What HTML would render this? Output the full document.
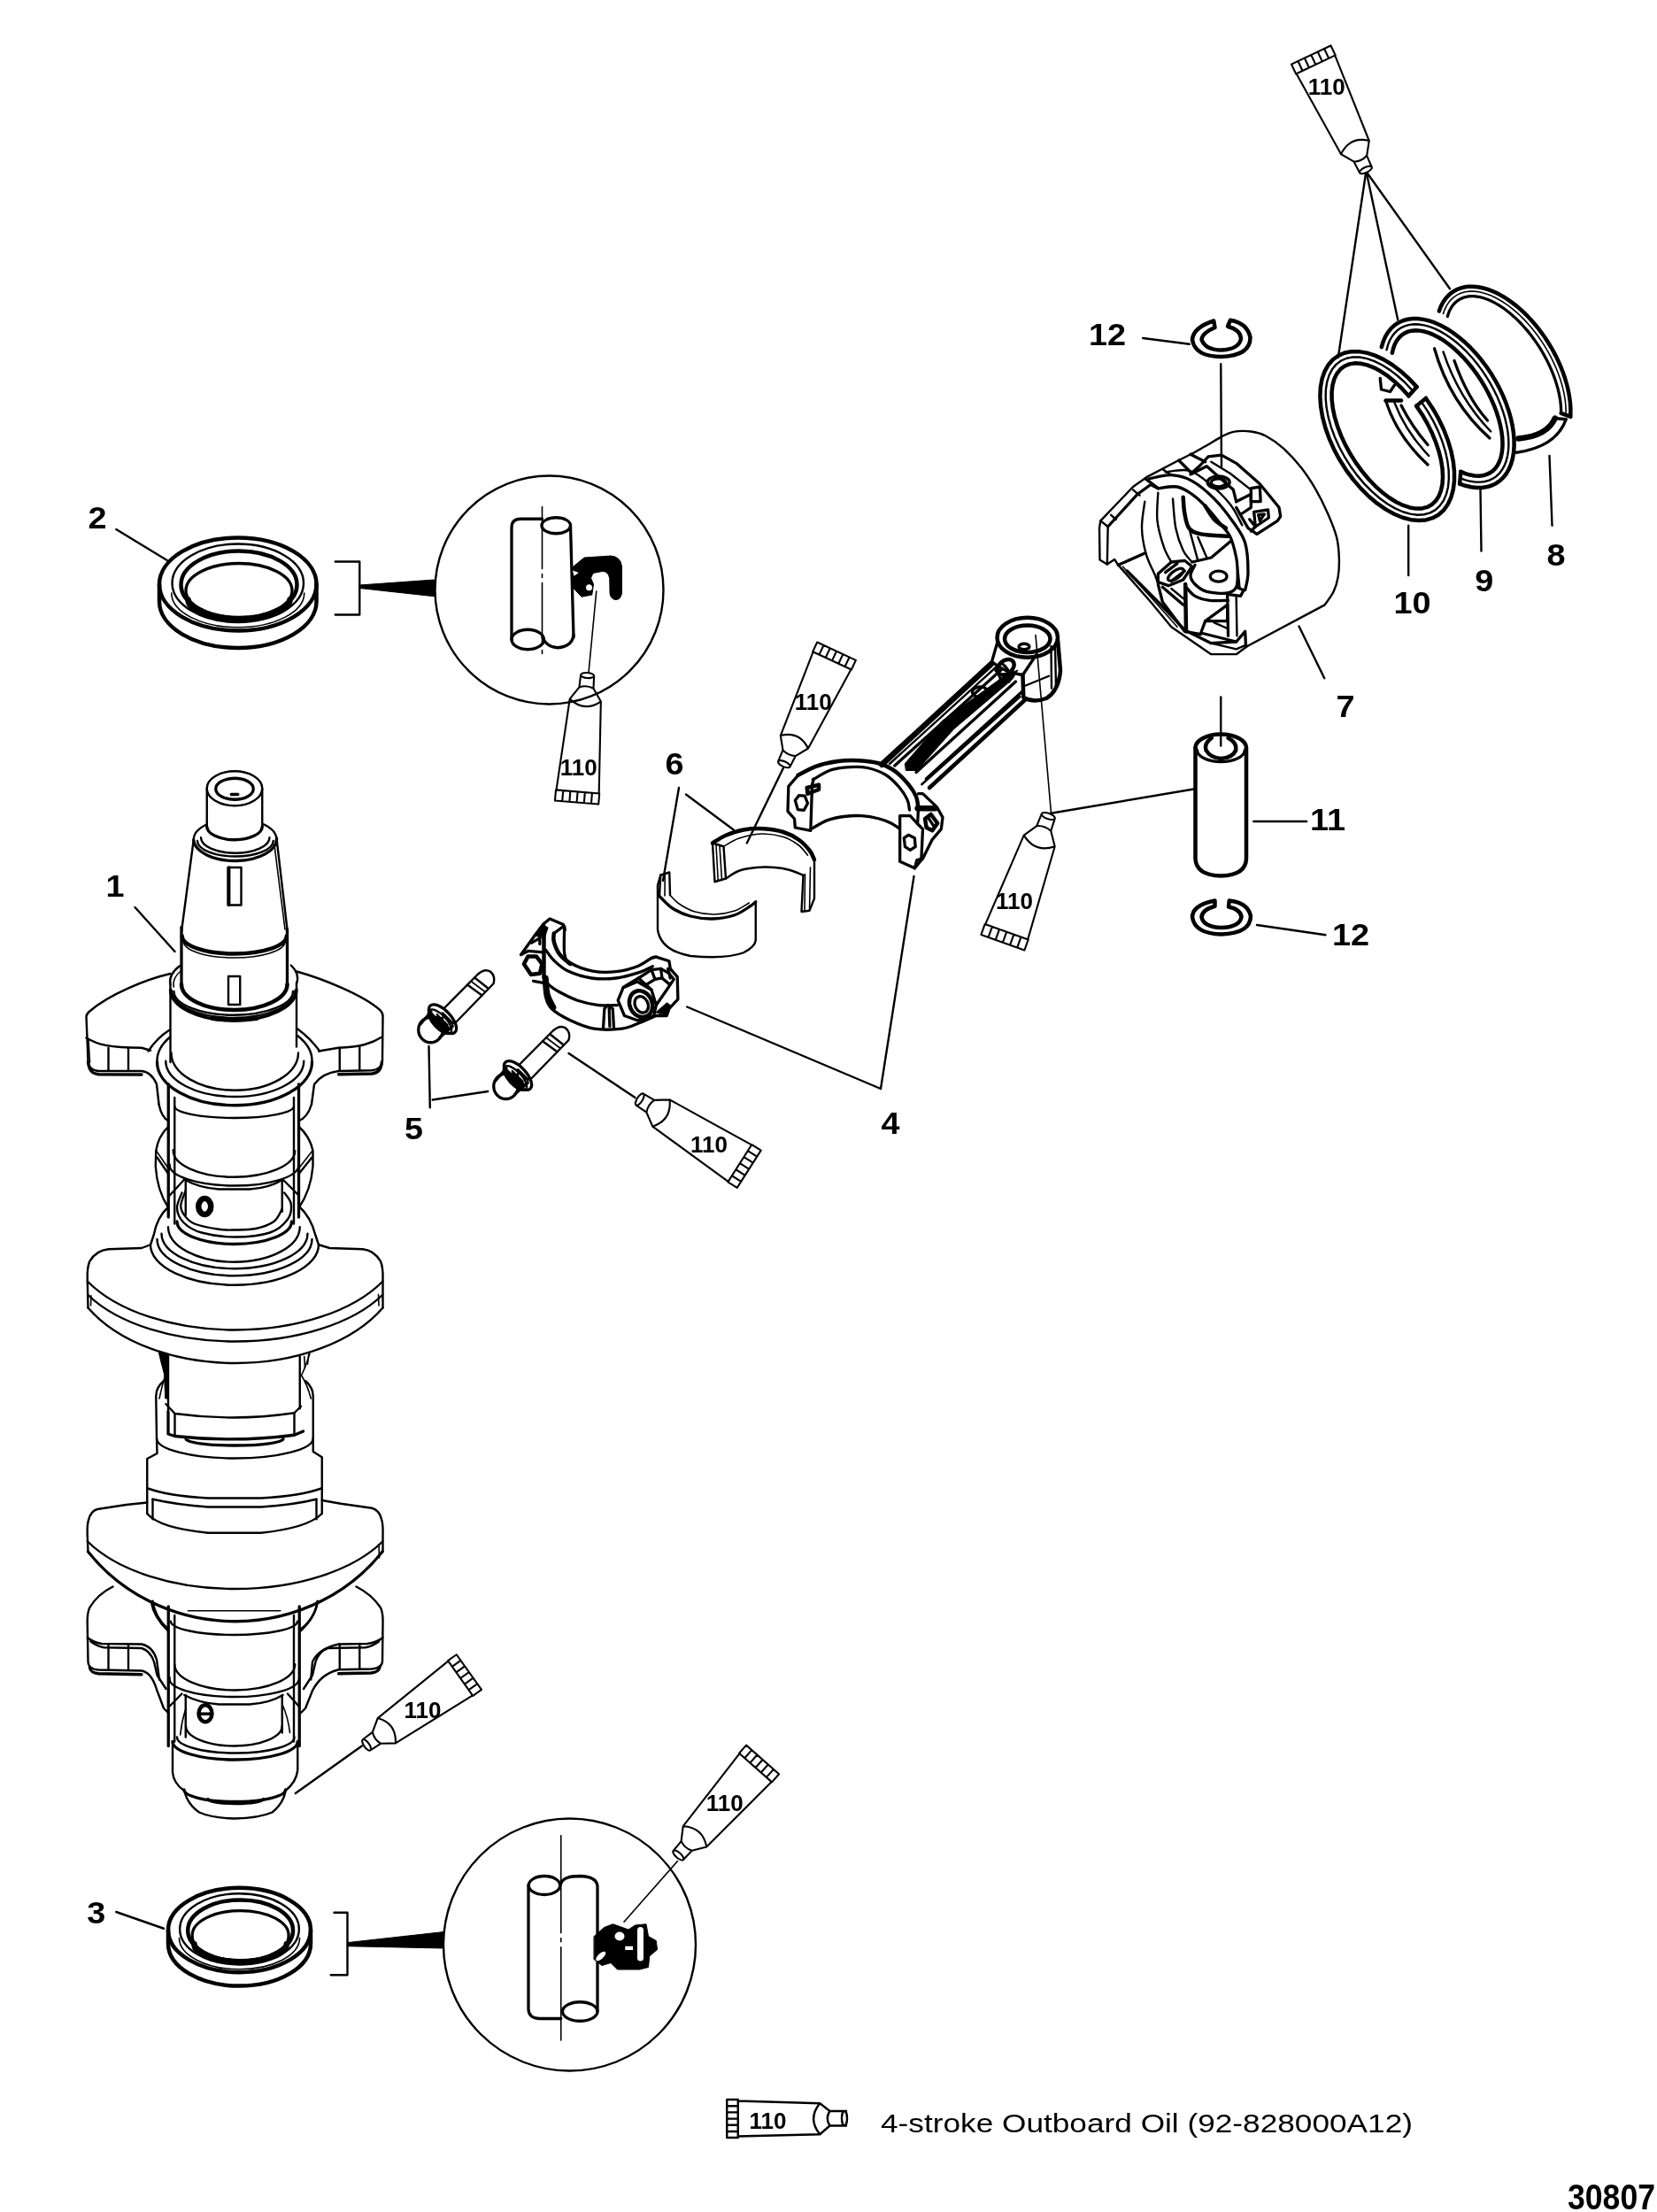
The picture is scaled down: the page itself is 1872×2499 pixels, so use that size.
<!DOCTYPE html>
<html><head><meta charset="utf-8"><title>30807</title>
<style>
html,body{margin:0;padding:0;background:#fff}
svg{display:block}
path,ellipse,circle,line,polyline{vector-effect:non-scaling-stroke;fill:none;stroke:#000;stroke-width:2.4;stroke-linecap:round;stroke-linejoin:round}
.t{stroke-width:1.6}
.n{stroke-width:2.4}
.k{stroke-width:3.3}
.K{stroke-width:4.5}
.c{stroke-width:2.4}
.X{stroke-width:6.5}
.f{fill:#000;stroke:#000;stroke-width:1}
.w{fill:#fff;stroke:none}
.wf{fill:#fff}
text{font-family:"Liberation Sans",sans-serif;fill:#000}
svg{will-change:transform}
.lb{font-weight:bold;font-size:35px;text-anchor:middle}
.tb{font-weight:bold;font-size:26px;text-anchor:middle}
.tn{font-weight:normal;stroke:#000;stroke-width:0.8px}
.t2{stroke-width:2.1}
</style></head>
<body>
<svg width="1872" height="2499" viewBox="0 0 1872 2499">
<rect class="w" x="0" y="0" width="1872" height="2499"/>
<g transform="translate(60,850) scale(0.25)">
<path class="n" d="M695,163 A125,78 0 1 0 945,163 A125,78 0 1 0 695,163Z"/>
<path class="k" d="M735,165 A85,48 0 1 0 905,165 A85,48 0 1 0 735,165Z"/>
<path class="k" d="M805,190 L835,190"/>
<path class="n" d="M695,165 L695,340"/>
<path class="n" d="M945,165 L945,340"/>
<path class="k" d="M695,335 A125,60 0 0 0 945,335"/>
<path class="n" d="M635,395 A188,95 0 0 1 695,325"/>
<path class="n" d="M1010,390 A188,95 0 0 0 945,322"/>
<path class="k" d="M635,395 A187.5,98.5 0 0 0 1010,388"/>
<path class="n" d="M652,400 A171.5,70 0 0 0 995,400"/>
<path class="n" d="M668,385 A155,70 0 0 0 978,385"/>
<path class="n" d="M635,395 L580,810"/>
<path class="n" d="M1010,390 L1058,800"/>
<path class="t" d="M1000,420 L1048,800"/>
<path class="K" d="M583,830 A236,80 0 0 0 1055,830"/>
<path class="t" d="M590,855 A229,73 0 0 0 1048,855"/>
<path class="k" d="M580,790 L580,1050"/>
<path class="k" d="M1058,800 L1058,1050"/>
<path class="K" d="M580,1048 A239,116 0 0 0 1058,1048"/>
<path class="n" d="M790,520 H850 V690 H790Z"/>
<path class="k" d="M795,520 L795,690"/>
<path class="n" d="M792,1012 H845 V1140 H792Z"/>
<path class="n" d="M530,1050 A286,135 0 0 1 572,965"/>
<path class="t" d="M545,1060 A270,125 0 0 1 580,985"/>
<path class="n" d="M1100,1045 A286,135 0 0 0 1075,962"/>
<path class="k" d="M530,1072 A285,140 0 0 0 1100,1072"/>
<path class="n" d="M536,1076 A279,124 0 0 0 1094,1076"/>
<path class="n" d="M546,1080 A269,107 0 0 0 1084,1080"/>
<path class="K" d="M720,1203 Q820,1216 920,1203"/>
<path class="n" d="M530,1050 L530,1400"/>
<path class="n" d="M1100,1045 L1100,1330"/>
<path class="k" d="M470,1400 A350,195 0 0 0 1170,1400"/>
<path class="n" d="M509,1395 A312,161 0 0 0 1133,1395"/>
<path class="n" d="M534,1358 A287,169 0 0 0 1108,1358"/>
<path class="n" d="M470,1400 A350,195 0 0 1 530,1285"/>
<path class="n" d="M1170,1400 A350,195 0 0 0 1104,1280"/>
<path class="n" d="M430,1350 Q470,1290 525,1255"/>
<path class="n" d="M1205,1350 Q1160,1290 1105,1250"/>
<path class="n" d="M530,1000 C420,1025 250,1095 165,1170 Q150,1183 150,1195 L158,1395 Q160,1435 205,1440 L400,1440 Q445,1445 468,1500 L478,1590"/>
<path class="n" d="M150,1290 C200,1320 250,1335 400,1335 L440,1347"/>
<path class="n" d="M250,1335 L250,1437"/>
<path class="n" d="M340,1337 L340,1437"/>
<path class="t" d="M160,1300 L166,1400"/>
<path class="n" d="M1100,990 C1210,1020 1400,1095 1478,1165 Q1492,1180 1490,1195 L1488,1395 Q1485,1432 1440,1437 L1290,1440 Q1215,1450 1180,1500 L1168,1590"/>
<path class="n" d="M1488,1285 C1440,1315 1390,1332 1290,1335 L1200,1350"/>
<path class="n" d="M1295,1335 L1295,1437"/>
<path class="n" d="M1385,1330 L1385,1437"/>
<path class="k" d="M521,1500 L521,2100"/>
<path class="n" d="M549,1560 L549,2130"/>
<path class="n" d="M1088,1560 L1088,2130"/>
<path class="k" d="M1110,1500 L1110,2100"/>
<path class="n" d="M549,1599 A269.5,53 0 0 0 1088,1599"/>
<path class="n" d="M478,1590 Q490,1650 521,1665"/>
<path class="n" d="M1168,1590 Q1150,1650 1110,1665"/>
<path class="n" d="M521,1691 Q475,1735 465,1800 L463,1870 Q470,1980 521,2058"/>
<path class="n" d="M1110,1691 Q1160,1735 1174,1800 L1174,1870 Q1165,1980 1110,2058"/>
<path class="t" d="M466,1800 L521,1880"/>
<path class="n" d="M470,1830 L521,1905"/>
<path class="t" d="M1172,1800 L1110,1880"/>
<path class="n" d="M1170,1830 L1110,1905"/>
<path class="n" d="M543,1797 A275,119.5 0 0 0 1093,1802"/>
<path class="n" d="M527,1863 A291.5,92 0 0 0 1110,1869"/>
<path class="n" d="M593,1930 Q660,1968 749,1974 L888,1974 Q980,1968 1038,1930"/>
<path class="n" d="M527,2002 L593,1930"/>
<path class="n" d="M1110,2002 L1038,1930"/>
<path class="n" d="M599,1930 L599,2091"/>
<path class="n" d="M1035,1930 L1035,2075"/>
<path class="X" d="M657,2052 A28,36 0 1 0 713,2052 A28,36 0 1 0 657,2052Z"/>
<path class="n" d="M599,1980 C595.3,1991.2 578,2028.5 577,2047 C576,2065.5 582.8,2077.2 593,2091 C603.2,2104.8 612,2119.3 638,2130 C664,2140.7 718.5,2150.3 749,2155 C779.5,2159.7 793.2,2158.5 821,2158 C848.8,2157.5 886.3,2158.5 916,2152 C945.7,2145.5 979.2,2133.8 999,2119 C1018.8,2104.2 1029,2072.3 1035,2063"/>
<path class="n" d="M582,1990 C578.3,2001.7 558.7,2037.5 560,2060 C561.3,2082.5 571.7,2106.7 590,2125 C608.3,2143.3 631.5,2159.2 670,2170 C708.5,2180.8 769.3,2190 821,2190 C872.7,2190 940.2,2183.3 980,2170 C1019.8,2156.7 1044.2,2131.7 1060,2110 C1075.8,2088.3 1077.5,2060 1075,2040 C1072.5,2020 1050,1998.3 1045,1990"/>
<path class="k" d="M560,2120 A259,102 0 0 0 1078,2120"/>
<path class="n" d="M520,2055 Q470,2100 455,2180 L440,2225"/>
<path class="n" d="M1110,2050 Q1165,2100 1185,2180 L1200,2225"/>
<path class="n" d="M520,2145 A297.5,158 0 0 0 1115,2145"/>
<path class="n" d="M490,2175 A330,158 0 0 0 1150,2175"/>
<path class="n" d="M470,2200 A350,165 0 0 0 1170,2200"/>
<path class="n" d="M440,2225 A380,182 0 0 0 1200,2225"/>
<path class="n" d="M440,2225 L400,2240 L250,2245 Q195,2250 165,2300 Q153,2330 155,2380 L158,2510"/>
<path class="n" d="M1200,2225 L1250,2240 L1400,2245 Q1450,2250 1480,2300 Q1492,2330 1490,2380 L1490,2510"/>
<path class="n" d="M155,2390 A760.9,423.2 0 0 0 1490,2390"/>
<path class="n" d="M158,2452 A758.1,404 0 0 0 1488,2452"/>
<path class="n" d="M158,2510 A759.2,480.9 0 0 0 1490,2510"/>
<path class="t" d="M1470,2450 L1472,2500"/>
<path class="t" d="M172,2455 L170,2500"/>
<path class="n" d="M520,2730 L520,2980"/>
<path class="f" d="M479,2714 L521,2719 L521,2920 L507,2920 L502,2811Z"/>
<path class="t" d="M1160,2716 Q1140,2780 1122,2815 Q1150,2860 1165,2920"/>
<path class="t" d="M480,2920 Q495,2850 507,2815"/>
<path class="n" d="M1115,2730 L1115,2965"/>
<path class="t" d="M1135,2730 L1138,2780"/>
<path class="t" d="M485,2720 L492,2765"/>
<path class="t" d="M1155,2720 L1150,2765"/>
<path class="n" d="M500,2840 Q465,2870 465,2910 L468,3100"/>
<path class="n" d="M1140,2840 Q1175,2870 1175,2910 L1175,3100"/>
<path class="n" d="M510,2945 L550,2988 Q820,3025 1090,2985 L1120,2955"/>
<path class="n" d="M550,2988 L550,3088"/>
<path class="n" d="M1090,2985 L1090,3085"/>
<path class="k" d="M520,2980 L520,3080 L550,3090 Q820,3120 1090,3085 L1130,3068"/>
<path class="k" d="M600,3102 A220,30 0 0 0 1040,3102"/>
<path class="n" d="M468,3100 A353.5,90 0 0 0 1175,3100"/>
<path class="n" d="M468,3100 L470,3168 L425,3192 L425,3440"/>
<path class="n" d="M1175,3100 L1175,3160 L1215,3185 L1215,3440"/>
<path class="n" d="M425,3325 Q520,3360 700,3370 L940,3370 Q1120,3360 1215,3325"/>
<path class="n" d="M450,3375 Q560,3400 700,3410 L940,3410 Q1090,3400 1190,3375"/>
<path class="n" d="M450,3375 L450,3465"/>
<path class="n" d="M1190,3375 L1190,3465"/>
<path class="n" d="M425,3440 Q480,3505 700,3527 L940,3527 Q1150,3505 1215,3440"/>
<path class="n" d="M425,3390 L330,3400 L200,3420 Q168,3430 160,3470 Q153,3490 155,3540 L158,3612"/>
<path class="n" d="M1215,3380 L1300,3395 L1440,3415 Q1475,3425 1484,3465 Q1492,3490 1490,3540 L1490,3612"/>
<path class="n" d="M155,3565 A760.9,413.6 0 0 0 1490,3565"/>
<path class="k" d="M158,3612 A831.2,787.5 0 0 0 1488,3612"/>
<path class="t" d="M1472,3580 L1474,3640"/>
<path class="n" d="M270,3770 Q200,3805 165,3865 Q153,3890 155,3940 L158,4110 Q160,4143 205,4146 L400,4150 Q445,4158 468,4235 L500,4320 L520,4340"/>
<path class="n" d="M155,4000 Q180,4022 220,4028 L400,4030 Q450,4040 468,4100 L480,4190"/>
<path class="n" d="M250,4032 L250,4145"/>
<path class="n" d="M340,4032 L340,4147"/>
<path class="n" d="M450,3835 Q460,3910 520,3962"/>
<path class="n" d="M1370,3770 Q1440,3805 1480,3865 Q1492,3890 1490,3940 L1488,4110 Q1485,4138 1440,4142 L1290,4145 Q1210,4165 1172,4240 L1140,4320 L1120,4340"/>
<path class="n" d="M1490,4000 Q1465,4022 1420,4028 L1290,4030 Q1200,4050 1172,4110 L1165,4190"/>
<path class="n" d="M1295,4030 L1295,4143"/>
<path class="n" d="M1385,4028 L1385,4140"/>
<path class="n" d="M1195,3835 Q1185,3910 1120,3962"/>
<path class="n" d="M170,4018 Q200,4040 230,4045 L400,4048 Q440,4060 456,4110 L470,4170 L510,4232"/>
<path class="n" d="M1472,4018 Q1442,4040 1412,4045 L1242,4048 Q1202,4060 1186,4110 L1172,4170 L1132,4232"/>
<path class="k" d="M165,4135 Q170,4160 205,4163 L400,4167"/>
<path class="k" d="M1477,4132 Q1472,4157 1437,4160 L1290,4163"/>
<path class="k" d="M158,1398 Q162,1452 205,1455 L400,1456"/>
<path class="k" d="M1486,1398 Q1482,1449 1440,1452 L1290,1455"/>
<path class="k" d="M521,3860 L521,4490"/>
<path class="n" d="M549,3900 L549,4470"/>
<path class="n" d="M1088,3900 L1088,4470"/>
<path class="k" d="M1113,3860 L1113,4490"/>
<path class="t" d="M610,3879 L1027,3879"/>
<path class="n" d="M532,3927 A286,61 0 0 0 1104,3927"/>
<path class="n" d="M443,3838 Q455,3910 521,3971"/>
<path class="n" d="M1195,3838 Q1185,3910 1113,3975"/>
<path class="n" d="M549,4121 A272,117 0 0 0 1093,4121"/>
<path class="n" d="M527,4182 A291.5,80.5 0 0 0 1110,4193"/>
<path class="n" d="M593,4260 Q660,4296 749,4302 L888,4302 Q980,4296 1038,4260"/>
<path class="n" d="M527,4310 L582,4254"/>
<path class="n" d="M1110,4310 L1060,4254"/>
<path class="n" d="M599,4260 L599,4450"/>
<path class="n" d="M1035,4260 L1035,4430"/>
<path class="K" d="M658,4343 A30,38 0 1 0 718,4343 A30,38 0 1 0 658,4343Z"/>
<path class="k" d="M662,4345 L714,4345"/>
<path class="t" d="M600,4320 Q580,4380 575,4440"/>
<path class="t" d="M1035,4300 Q1062,4360 1070,4430"/>
<path class="n" d="M600,4400 A217.5,90 0 0 0 1035,4400"/>
<path class="n" d="M560,4450 A265,72 0 0 0 1090,4450"/>
<path class="k" d="M540,4470 A282.5,82 0 0 0 1105,4470"/>
<path class="n" d="M540,4470 L540,4610 Q545,4660 592,4692"/>
<path class="n" d="M1105,4470 L1105,4600 Q1098,4655 1050,4692"/>
<path class="k" d="M592,4688 A229,54 0 0 0 1050,4688"/>
<path class="n" d="M595,4700 Q610,4755 660,4790 Q720,4816 820,4818 Q930,4816 990,4790 Q1040,4750 1050,4695"/>
<path class="k" d="M700,4730 A125,20 0 0 0 950,4730"/>
</g>
<g transform="translate(100,540) scale(0.25)">
<path class="K" d="M320,480 A355,210 0 1 0 1030,480 A355,210 0 1 0 320,480Z"/>
<path class="K" d="M320,480 V558 A355,210 0 0 0 1030,558 V480"/>
<path class="n" d="M378,475 A297,177 0 1 0 972,475 A297,177 0 1 0 378,475Z"/>
<path class="K" d="M418,482 A262,152 0 1 0 942,482 A262,152 0 1 0 418,482Z"/>
<path class="k" d="M440,508 A240,122 0 1 0 920,508 A240,122 0 1 0 440,508Z"/>
<path class="X" d="M450,550 A230,88 0 0 0 910,550"/>
<path class="t" d="M375,520 A300,155 0 0 0 975,520"/>
<path class="n" d="M1115,378 H1225 V618 H1115"/>
<path class="f" d="M1225,484 L1562,460 L1562,535 L1225,498Z"/>
<path class="n" d="M125,232 L355,372"/>
</g>
<g transform="translate(470,500) scale(0.25)">
<path class="c" d="M86,666 A516,516 0 1 0 1118,666 A516,516 0 1 0 86,666Z"/>
<path class="k" d="M432,890 L432,385 Q432,345 472,345 L570,345"/>
<path class="k" d="M432,890 A73,45 0 1 0 578,890 A73,45 0 1 0 432,890Z"/>
<path class="k" d="M568,375 A65,36 0 1 0 698,375 A65,36 0 1 0 568,375Z"/>
<path class="k" d="M698,375 L712,880"/>
<path class="k" d="M572,880 Q590,925 640,927 Q705,922 712,870"/>
<path class="t" d="M570,290 L570,960" stroke-dasharray="70 6 4 6"/>
<path class="f" d="M705,565 L760,520 L880,512 Q925,515 930,560 L930,680 Q925,712 900,710 Q878,705 876,680 L875,615 Q870,580 840,582 L800,590 L790,612 L802,640 L795,688 L748,697 L715,662 L704,620Z"/>
<path class="w" d="M768,655 A14,14 0 1 0 796,655 A14,14 0 1 0 768,655Z"/>
<path class="w" d="M708,578 L735,588 L714,603Z"/>
<path class="t" d="M815,672 L780,1040"/>
</g>
<g transform="translate(60,1750) scale(0.25)">
<path class="K" d="M520,1722 A322,190.5 0 1 0 1164,1722 A322,190.5 0 1 0 520,1722Z"/>
<path class="K" d="M520,1722 V1784 A322,190.5 0 0 0 1164,1784 V1722"/>
<path class="n" d="M572.6,1717.5 A269.4,160.5 0 1 0 1111.4,1717.5 A269.4,160.5 0 1 0 572.6,1717.5Z"/>
<path class="K" d="M608.9,1723.8 A237.6,137.9 0 1 0 1084.2,1723.8 A237.6,137.9 0 1 0 608.9,1723.8Z"/>
<path class="k" d="M628.9,1747.4 A217.7,110.7 0 1 0 1064.2,1747.4 A217.7,110.7 0 1 0 628.9,1747.4Z"/>
<path class="X" d="M637.9,1785.5 A208.6,79.8 0 0 0 1055.1,1785.5"/>
<path class="t" d="M569.9,1758.3 A272.1,140.6 0 0 0 1114.1,1758.3"/>
<path class="n" d="M285,1640 L500,1715"/>
</g>
<g transform="translate(360,1850) scale(0.25)">
<path class="c" d="M564,1388 A570,570 0 1 0 1704,1388 A570,570 0 1 0 564,1388Z"/>
<path class="k" d="M949,1120 A71,42 0 1 0 1091,1120 A71,42 0 1 0 949,1120Z"/>
<path class="k" d="M948,1120 L948,1680 Q950,1722 1000,1722 L1095,1722"/>
<path class="k" d="M1095,1112 Q1105,1078 1180,1078 Q1255,1080 1260,1122 L1260,1690"/>
<path class="k" d="M1102,1690 A79,43 0 1 0 1260,1690 A79,43 0 1 0 1102,1690Z"/>
<path class="t" d="M1095,895 L1095,1820" stroke-dasharray="110 6 4 6"/>
<path class="f" d="M1245,1350 L1290,1310 L1330,1295 L1400,1320 L1430,1300 L1480,1295 L1490,1350 L1525,1370 L1530,1410 L1495,1440 L1490,1490 L1450,1500 L1350,1500 L1320,1470 L1280,1482 L1245,1455Z"/>
<path class="w" d="M1338,1350 A22,20 0 1 0 1382,1350 A22,20 0 1 0 1338,1350Z"/>
<ellipse class="w" cx="1275" cy="1440" rx="28" ry="12" transform="rotate(-42 1275 1440)"/>
<path class="w" d="M1440,1322 Q1440,1308 1454,1308 Q1468,1308 1468,1322 L1468,1448 Q1468,1462 1454,1462 Q1440,1462 1440,1448Z"/>
<path class="w" d="M1385,1395 L1420,1395 L1420,1412 L1385,1412Z"/>
<path class="t" d="M1380,1285 L1622,1010"/>
<path class="n" d="M70,1243 H130 V1525 H55"/>
<path class="f" d="M135,1378 L566,1330 L566,1404 L135,1395Z"/>
</g>
<g transform="translate(700,780) scale(0.25)">
<path class="K" d="M420,690 C430,684.2 456.7,665 480,655 C503.3,645 531.7,635 560,630 C588.3,625 620,623.3 650,625 C680,626.7 713.3,631.7 740,640 C766.7,648.3 790,660.8 810,675 C830,689.2 848.3,710 860,725 C871.7,740 876.7,758.3 880,765"/>
<path class="t" d="M470,705 C481.7,698.8 511.7,677.5 540,668 C568.3,658.5 606.7,649 640,648 C673.3,647 711.7,653.3 740,662 C768.3,670.7 791.7,686.2 810,700 C828.3,713.8 843.3,737.5 850,745"/>
<path class="n" d="M420,690 L470,705 L480,850 L430,865Z"/>
<path class="t" d="M436,698 L445,860"/>
<path class="t" d="M452,702 L462,855"/>
<path class="n" d="M480,850 C490,844.2 516.7,823.3 540,815 C563.3,806.7 593.3,802.5 620,800 C646.7,797.5 675,798 700,800 C725,802 748.3,806.2 770,812 C791.7,817.8 820,831.2 830,835"/>
<path class="n" d="M830,835 L822,1000 L858,995 L880,940 L880,765"/>
<path class="t" d="M838,830 L836,998"/>
<path class="t" d="M862,800 L858,995"/>
<path class="n" d="M185,835 L225,822 L228,925"/>
<path class="n" d="M185,835 L180,930"/>
<path class="t" d="M205,828 L204,928"/>
<path class="n" d="M185,835 L172,880 L172,1080 Q185,1175 320,1200 Q480,1215 560,1185 Q610,1160 615,1130 L615,958"/>
<path class="k" d="M180,930 C190,939.2 216.7,970 240,985 C263.3,1000 290,1012.2 320,1020 C350,1027.8 386.7,1032.8 420,1032 C453.3,1031.2 491.7,1024.5 520,1015 C548.3,1005.5 574.2,985 590,975 C605.8,965 610.8,958.3 615,955"/>
<path class="t" d="M228,925 C235,931.7 251.3,952.5 270,965 C288.7,977.5 313.3,992.2 340,1000 C366.7,1007.8 400,1012.7 430,1012 C460,1011.3 494.2,1004.7 520,996 C545.8,987.3 574.2,966 585,960"/>
</g>
<g transform="translate(880,780) scale(0.16666666666666666)">
<path class="K" d="M130,575 C150,565 205,530.8 250,515 C295,499.2 351.7,486.7 400,480 C448.3,473.3 493.3,472.5 540,475 C586.7,477.5 638.3,482.5 680,495 C721.7,507.5 756.7,525.8 790,550 C823.3,574.2 856.7,611.7 880,640 C903.3,668.3 919.2,693.3 930,720 C940.8,746.7 942.5,786.7 945,800"/>
<path class="k" d="M230,605 C250,594.2 308.3,554.2 350,540 C391.7,525.8 438.3,522.5 480,520 C521.7,517.5 560,516.7 600,525 C640,533.3 685,549.2 720,570 C755,590.8 785,621.7 810,650 C835,678.3 857.5,713.3 870,740 C882.5,766.7 882.5,798.3 885,810"/>
<path class="k" d="M130,575 L65,650 L60,820 L105,870 L110,930 L215,950 L225,640 L235,600"/>
<path class="k" d="M110,745 L135,712 L175,715 L195,765 L170,812 L128,808Z"/>
<path class="K" d="M190,660 L270,640 L270,672 L195,700Z"/>
<path class="k" d="M225,935 C242.5,925.8 294.2,893.3 330,880 C365.8,866.7 401.7,860 440,855 C478.3,850 520,847.5 560,850 C600,852.5 646.7,861.7 680,870 C713.3,878.3 737.5,889.2 760,900 C782.5,910.8 805.8,929.2 815,935"/>
<path class="k" d="M820,850 L820,1160 L920,1205 L965,1150 L975,940 L935,900 L890,850Z"/>
<path class="k" d="M848,1000 L878,980 L920,1000 L925,1060 L890,1082 L855,1060Z"/>
<path class="k" d="M945,700 L975,700 L1070,790 L1110,860 L1100,940 L1040,1010 L975,1140 L965,1150"/>
<path class="K" d="M990,870 L1030,840 L1075,900 L1040,950 L1000,930Z"/>
<path class="X" d="M940,800 L1060,800"/>
<path class="k" d="M945,800 L940,900"/>
<path class="k" d="M1010,860 L1050,920"/>
<path class="k" d="M920,1205 L935,1150 L975,1140"/>
</g>
<g transform="translate(860,640) scale(0.25)">
<path class="X" d="M545,895 L1040,440"/>
<path class="n" d="M580,892 L1075,442"/>
<path class="k" d="M603,900 L1090,462"/>
<path class="k" d="M700,930 L1150,520"/>
<path class="k" d="M745,960 L1185,560"/>
<path class="K" d="M760,1000 L1195,600"/>
<path class="n" d="M725,985 L1170,588"/>
<path class="f" d="M650,890 L815,700 L1105,490 L1160,468 L1135,510 L870,735 L745,875 L705,922 L655,922Z"/>
<path class="K" d="M1066,321 A137,90 0 1 0 1340,321 A137,90 0 1 0 1066,321Z"/>
<path class="K" d="M1100,327 A103,61 0 1 0 1306,327 A103,61 0 1 0 1100,327Z"/>
<path class="k" d="M1068,340 L1042,430"/>
<path class="K" d="M1340,330 L1352,470 Q1345,560 1290,595 Q1230,618 1185,592 L1182,490"/>
<path class="n" d="M1310,360 L1312,550"/>
<path class="n" d="M1328,350 L1332,545"/>
<path class="k" d="M1042,430 Q1100,480 1182,490"/>
<path class="k" d="M1242,400 L1182,490"/>
<path class="n" d="M1190,540 L1300,495"/>
<ellipse class="K" cx="1105" cy="455" rx="42" ry="30" transform="rotate(-40 1105 455)"/>
<path class="k" d="M1060,470 Q1090,500 1080,540"/>
<path class="k" d="M1090,440 Q1130,470 1120,520"/>
<path class="k" d="M954,568 A36,24 0 1 0 1026,568 A36,24 0 1 0 954,568Z"/>
<path class="k" d="M1164,362 A24,13 0 1 0 1212,362 A24,13 0 1 0 1164,362Z"/>
<path class="t" d="M1240,310 L1310,1115"/>
</g>
<g transform="translate(570,1020) scale(0.13280212483399734)">
<path class="k" d="M140,440 L255,280 L330,180 L385,135 L500,185 L515,230"/>
<path class="f" d="M250,275 L335,195 L370,210 L340,300Z"/>
<path class="K" d="M335,200 L335,640"/>
<path class="k" d="M420,260 L500,200"/>
<path class="K" d="M420,260 C420,271.7 411.7,300 420,330 C428.3,360 446.7,408.3 470,440 C493.3,471.7 545,506.7 560,520"/>
<path class="k" d="M510,200 C510,238.3 501.7,378.3 510,430 C518.3,481.7 520,485 560,510 C600,535 685,567.5 750,580 C815,592.5 886.7,591.7 950,585 C1013.3,578.3 1080,559.2 1130,540 C1180,520.8 1223.3,483.3 1250,470 C1276.7,456.7 1283.3,461.7 1290,460"/>
<path class="k" d="M350,400 C361.7,415 388.3,460 420,490 C451.7,520 486.7,555 540,580 C593.3,605 671.7,630 740,640 C808.3,650 881.7,648.3 950,640 C1018.3,631.7 1098.3,606.7 1150,590 C1201.7,573.3 1241.7,548.3 1260,540"/>
<path class="K" d="M165,520 L200,455 L270,455 L320,520 L300,600 L225,610Z"/>
<path class="k" d="M140,440 L200,410 L330,420"/>
<path class="k" d="M245,665 L330,680"/>
<path class="k" d="M230,340 L300,300 L300,350"/>
<path class="k" d="M335,640 C342.5,650 357.5,680 380,700 C402.5,720 430,738.3 470,760 C510,781.7 565,811.7 620,830 C675,848.3 743.3,863.3 800,870 C856.7,876.7 933.3,870 960,870"/>
<path class="k" d="M335,650 C337.5,675 339.2,758.3 350,800 C360.8,841.7 365,866.7 400,900 C435,933.3 500,971.7 560,1000 C620,1028.3 686.7,1058.3 760,1070 C833.3,1081.7 935,1078.3 1000,1070 C1065,1061.7 1101.7,1038.3 1150,1020 C1198.3,1001.7 1266.7,970 1290,960"/>
<path class="X" d="M350,640 C352.5,663.3 354.2,738.3 365,780 C375.8,821.7 406.7,871.7 415,890"/>
<path class="k" d="M840,1060 L850,900 L880,870 L920,900 L930,1060"/>
<path class="k" d="M890,900 L895,1050"/>
<path class="k" d="M965,830 L1010,720 L1130,670 L1250,740 L1290,870 L1270,960 L1130,1000 L1020,960Z"/>
<ellipse class="K" cx="1160" cy="860" rx="95" ry="115" transform="rotate(-25 1160 860)"/>
<ellipse class="k" cx="1165" cy="865" rx="55" ry="72" transform="rotate(-25 1165 865)"/>
<path class="k" d="M1010,720 L1040,700 L1140,640 L1250,740"/>
<path class="k" d="M1250,470 L1290,460 L1400,495 L1410,560 L1470,630 L1475,820 L1400,900 L1380,960 L1290,960"/>
<path class="k" d="M1140,640 L1250,570 L1330,560 L1400,600 L1440,650 L1380,740 L1290,870"/>
<path class="k" d="M1250,570 L1280,650 L1200,700"/>
<path class="k" d="M1330,560 L1340,640 L1400,690"/>
<path class="k" d="M1280,650 L1340,640"/>
<path class="k" d="M1390,560 L1410,640"/>
<path class="f" d="M1290,930 L1380,850 L1410,870 L1380,960Z"/>
</g>
<g transform="translate(440,1020) scale(0.25)">
<path class="n" d="M245,478 L400,322 Q430,295 455,310 Q480,330 470,365 L300,540"/>
<path class="n" d="M352,370 L418,418"/>
<path class="n" d="M385,338 L448,388"/>
<path class="t" d="M368,354 L432,402"/>
<ellipse class="k" cx="240" cy="525" rx="82" ry="38" transform="rotate(47 240 525)"/>
<ellipse class="n" cx="228" cy="537" rx="70" ry="30" transform="rotate(47 228 537)"/>
<path class="k" d="M131,574 A55,57 0 1 0 241,574 A55,57 0 1 0 131,574Z"/>
<path class="K" d="M215,520 L262,565"/>
<path class="K" d="M190,505 L205,520"/>
<path class="k" d="M240,500 L285,545"/>
<path class="X" d="M222,548 L246,572"/>
<path class="k" d="M140,548 L188,492"/>
<path class="k" d="M228,608 L285,558"/>
<path class="k" d="M200,520 L250,570"/>
<path class="n" d="M215,505 L262,552"/>
<path class="k" d="M225,535 L240,520"/>
<path class="n" d="M585,733 L740,577 Q770,550 795,565 Q820,585 810,620 L640,795"/>
<path class="n" d="M692,625 L758,673"/>
<path class="n" d="M725,593 L788,643"/>
<path class="t" d="M708,609 L772,657"/>
<ellipse class="k" cx="580" cy="780" rx="82" ry="38" transform="rotate(47 580 780)"/>
<ellipse class="n" cx="568" cy="792" rx="70" ry="30" transform="rotate(47 568 792)"/>
<path class="k" d="M471,829 A55,57 0 1 0 581,829 A55,57 0 1 0 471,829Z"/>
<path class="K" d="M555,775 L602,820"/>
<path class="K" d="M530,760 L545,775"/>
<path class="k" d="M580,755 L625,800"/>
<path class="X" d="M562,803 L586,827"/>
<path class="k" d="M480,803 L528,747"/>
<path class="k" d="M568,863 L625,813"/>
<path class="k" d="M540,775 L590,825"/>
<path class="n" d="M555,760 L602,807"/>
<path class="k" d="M565,790 L580,775"/>
</g>
<g transform="translate(1180,330) scale(0.25)">
<path class="K" d="M765,130 Q672,160 668,215 Q680,292 800,292 Q930,287 930,205 Q917,140 840,127 L828,155 Q885,170 888,210 Q880,258 800,262 Q728,262 710,215 Q712,185 770,160Z"/>
<path class="n" d="M797,325 L800,790"/>
<path class="n" d="M1150,1510 L1265,1745"/>
</g>
<g transform="translate(1230,480) scale(0.16666666666666666)">
<path class="n" d="M700,195 C716.7,185.8 766.7,159.2 800,140 C833.3,120.8 870,95.5 900,80 C930,64.5 946.7,52.8 980,47 C1013.3,41.2 1063.3,40.3 1100,45 C1136.7,49.7 1163.3,55.8 1200,75 C1236.7,94.2 1280,124.2 1320,160 C1360,195.8 1403.3,243.3 1440,290 C1476.7,336.7 1510,388.3 1540,440 C1570,491.7 1596.7,546.7 1620,600 C1643.3,653.3 1667.2,710 1680,760 C1692.8,810 1695.3,855 1697,900 C1698.7,945 1696.2,991.7 1690,1030 C1683.8,1068.3 1675,1098.3 1660,1130 C1645,1161.7 1610,1205 1600,1220 L1075,1500"/>
<path class="n" d="M700,195 L610,240 L400,350 L300,420 L80,650 L72,700 L75,915 L125,945 L175,912 L200,950 L420,1200 L560,1370 L830,1555 L1000,1555 L1075,1500"/>
<path class="n" d="M80,650 L130,690 L125,945"/>
<path class="k" d="M130,690 L330,470 L420,405 L470,430"/>
<path class="n" d="M150,610 L185,642"/>
<path class="n" d="M300,440 L345,478"/>
<path class="k" d="M385,365 L470,430"/>
<path class="n" d="M500,300 L560,340"/>
<path class="k" d="M610,240 L700,330"/>
<path class="k" d="M690,200 L790,250"/>
<path class="k" d="M200,950 L380,870"/>
<path class="k" d="M260,990 L470,1200 L650,1390 L830,1480 L1000,1470"/>
<path class="t" d="M230,960 L440,1190 L600,1370"/>
<path class="k" d="M410,365 C435,360.8 511.7,337.5 560,340 C608.3,342.5 651.7,353.3 700,380 C748.3,406.7 803.3,453.3 850,500 C896.7,546.7 945,610 980,660 C1015,710 1043.3,743.3 1060,800 C1076.7,856.7 1080,946.7 1080,1000 C1080,1053.3 1063.3,1100 1060,1120"/>
<path class="k" d="M470,430 C491.7,428.3 561.7,413.3 600,420 C638.3,426.7 666.7,446.7 700,470 C733.3,493.3 766.7,525 800,560 C833.3,595 873.3,646.7 900,680 C926.7,713.3 943.3,723.3 960,760 C976.7,796.7 991.7,860 1000,900 C1008.3,940 1006.7,966.7 1010,1000 C1013.3,1033.3 1018.3,1083.3 1020,1100"/>
<path class="n" d="M520,320 C546.7,318.3 630,296.7 680,310 C730,323.3 773.3,361.7 820,400 C866.7,438.3 923.3,493.3 960,540 C996.7,586.7 1026.7,656.7 1040,680"/>
<path class="n" d="M380,520 C376.7,550 358.3,640 360,700 C361.7,760 375,826.7 390,880 C405,933.3 436.7,986.7 450,1020 C463.3,1053.3 466.7,1070 470,1080"/>
<path class="n" d="M470,460 C469.2,491.7 458.3,588.3 465,650 C471.7,711.7 494.2,783.3 510,830 C525.8,876.7 551.7,913.3 560,930"/>
<path class="n" d="M570,500 C573.3,533.3 578.3,641.7 590,700 C601.7,758.3 621.7,811.7 640,850 C658.3,888.3 690,916.7 700,930"/>
<path class="K" d="M640,490 C641.7,508.3 643.3,565 650,600 C656.7,635 661.7,676.7 680,700 C698.3,723.3 715,730.8 760,740 C805,749.2 918.3,752.5 950,755"/>
<path class="n" d="M740,760 L800,900"/>
<path class="n" d="M680,700 L740,920"/>
<path class="K" d="M790,550 C800,565 826.7,615 850,640 C873.3,665 916.7,690 930,700"/>
<path class="k" d="M700,930 L830,900 L960,790"/>
<path class="k" d="M690,335 L760,270 L810,215 L900,205 L1000,260 L1160,400 L1290,560 L1300,620 L1280,650 L1140,740 L1080,700 L1000,560"/>
<path class="n" d="M830,250 L960,330 L1100,440"/>
<path class="k" d="M700,330 L800,280 L980,440 L1000,520"/>
<path class="k" d="M805,390 A75,42 0 1 0 955,390 A75,42 0 1 0 805,390Z"/>
<path class="k" d="M830,392 A50,27 0 1 0 930,392 A50,27 0 1 0 830,392Z"/>
<path class="k" d="M1100,430 L1160,420 L1165,520 L1100,520Z"/>
<path class="k" d="M1000,520 L1100,470 L1100,560 L1040,600"/>
<path class="k" d="M1120,590 L1215,575 L1220,630 L1130,690Z"/>
<path class="k" d="M1150,610 L1190,605 L1160,650Z"/>
<path class="k" d="M1090,640 L1130,690 L1100,720"/>
<path class="k" d="M720,950 C715,961.7 690,998.3 690,1020 C690,1041.7 701.7,1061.7 720,1080 C738.3,1098.3 763.3,1120 800,1130 C836.7,1140 906.7,1145 940,1140 C973.3,1135 988.3,1123.3 1000,1100 C1011.7,1076.7 1008.3,1016.7 1010,1000"/>
<path class="k" d="M824,1027 A56,36 0 1 0 936,1027 A56,36 0 1 0 824,1027Z"/>
<path class="k" d="M660,1100 C670,1110 693.3,1145 720,1160 C746.7,1175 782.5,1185 820,1190 C857.5,1195 924.2,1190 945,1190"/>
<path class="k" d="M1000,1100 L1050,1120 L1030,1160 L950,1150"/>
<path class="k" d="M470,1010 L560,930 L650,920 L700,960 L640,1050 L540,1090 L470,1065Z"/>
<ellipse class="k" cx="590" cy="1015" rx="62" ry="26" transform="rotate(-35 590 1015)"/>
<path class="k" d="M520,1000 L600,940"/>
<path class="k" d="M560,1060 L650,990"/>
<path class="K" d="M655,1080 L660,1400"/>
<path class="k" d="M940,1150 L945,1430"/>
<path class="n" d="M1000,1170 L1005,1430"/>
<path class="k" d="M790,1330 L940,1220 L940,1330 L830,1330Z"/>
<path class="k" d="M790,1330 L760,1410 L1000,1470 L1060,1400 L1065,1500"/>
<path class="k" d="M470,1080 L500,1200 L650,1400 L760,1420"/>
<path class="k" d="M500,1100 L640,1220"/>
<path class="n" d="M560,1110 L645,1180"/>
<path class="n" d="M850,1340 L940,1380"/>
<path class="n" d="M830,1480 L1000,1520 L1060,1495"/>
</g>
<g transform="translate(1160,760) scale(0.25)">
<path class="K" d="M762,340 L762,840 Q765,915 877,918 Q990,915 992,840 L992,340"/>
<path class="K" d="M762,340 A115,62 0 0 1 992,340"/>
<path class="k" d="M770,350 A107.5,52 0 0 0 985,350"/>
<path class="K" d="M835,295 Q800,320 810,350 Q830,385 877,388 Q930,385 945,350 Q950,315 910,295"/>
<path class="n" d="M877,110 L877,330"/>
<path class="K" d="M850,1030 Q748,1050 748,1105 Q760,1180 880,1182 Q1010,1178 1012,1100 Q1000,1040 915,1030 L912,1058 Q968,1070 970,1105 Q960,1150 880,1152 Q800,1150 790,1105 Q792,1070 850,1055Z"/>
</g>
<g transform="translate(1458,280) scale(0.25)">
<path class="K" d="M611.6,679.8 L641.8,724.8 L668.6,771.8 L691.7,820 L710.7,868.8 L725.2,917.2 L735,964.5 L739.9,1010 L740,1052.9 L735.1,1092.5 L725.3,1128.1 L710.9,1159.2 L692,1185.3 L669,1205.9 L642.2,1220.7 L612,1229.6 L579,1232.2 L543.7,1228.6 L506.7,1218.9 L468.5,1203.1 L429.8,1181.6 L391.3,1154.7 L353.4,1122.9 L317,1086.6 L282.5,1046.5 L250.5,1003.2 L221.5,957.3 L196,909.8 L174.5,861.2 L157.2,812.5 L144.5,764.4 L136.6,717.7 L133.5,673.1 L135.3,631.5 L142.1,593.3 L153.7,559.4 L169.9,530.1 L190.4,506.1 L214.9,487.7 L243.1,475.1 L274.4,468.7 L308.3,468.5 L344.4,474.4 L381.9,486.5 L420.3,504.5 L459.1,528.1 L497.4,557 L534.8,590.6 L570.6,628.4"/>
<path class="n" d="M591.4,696.2 L619.6,738.4 L644.9,782.5 L666.9,827.6 L685,873.2 L699.2,918.3 L709.1,962.3 L714.5,1004.5 L715.4,1044.2 L711.9,1080.7 L703.8,1113.5 L691.4,1142 L674.9,1165.7 L654.5,1184.3 L630.5,1197.5 L603.4,1205 L573.6,1206.8 L541.6,1202.7 L507.9,1192.9 L473,1177.5 L437.5,1156.8 L402.1,1131.1 L367.2,1100.8 L333.4,1066.5 L301.3,1028.6 L271.4,987.8 L244.3,944.8 L220.2,900.2 L199.7,854.8 L183,809.4 L170.5,764.6 L162.3,721.2 L158.6,679.9 L159.4,641.3 L164.7,606.2 L174.5,575 L188.5,548.3 L206.5,526.5 L228.4,509.9 L253.6,498.9 L281.8,493.6 L312.5,494.1 L345.2,500.4 L379.4,512.4 L414.6,529.9 L450.1,552.5 L485.5,580 L520,611.9 L553.2,647.7"/>
<path class="K" d="M568.8,714.5 L595,753.7 L618.5,794.5 L639.1,836.2 L656.4,878.1 L670.2,919.5 L680.2,959.9 L686.2,998.4 L688.1,1034.5 L686,1067.7 L679.8,1097.2 L669.7,1122.8 L655.7,1143.9 L638.3,1160.3 L617.5,1171.6 L593.8,1177.6 L567.6,1178.4 L539.2,1173.8 L509.2,1163.9 L478,1148.9 L446.1,1129.1 L414.1,1104.7 L382.5,1076.2 L351.7,1044 L322.4,1008.6 L294.8,970.7 L269.7,930.8 L247.2,889.6 L227.8,847.7 L211.8,805.9 L199.5,764.8 L191.1,725.1 L186.6,687.4 L186.2,652.3 L189.9,620.5 L197.6,592.4 L209.3,568.5 L224.6,549.2 L243.3,534.8 L265.3,525.5 L290,521.4 L317.1,522.8 L346.2,529.4 L376.7,541.3 L408.2,558.1 L440.2,579.8 L472.1,605.8 L503.5,635.8 L533.8,669.3"/>
<path class="K" d="M611.6,679.8 L568.8,714.5"/>
<path class="K" d="M570.6,628.4 L533.8,669.3"/>
<path class="k" d="M430,690 Q480,850 620,980"/>
<path class="n" d="M470,700 Q520,830 625,940"/>
<path class="k" d="M500,712 Q550,810 620,890"/>
<path class="K" d="M430,690 L500,690"/>
<path class="k" d="M405,590 L410,640 L450,650 L470,620"/>
<path class="K" d="M411.3,448.4 L418.7,423.9 L428.3,401.6 L440.2,381.7 L454.2,364.3 L470.2,349.7 L488.1,337.9 L507.8,328.9 L529,323 L551.7,320.1 L575.6,320.3 L600.6,323.5 L626.4,329.7 L652.9,338.9 L679.8,351 L706.9,365.9 L734,383.5 L760.9,403.7 L787.4,426.2 L813.2,450.9 L838.2,477.7 L862.1,506.2 L884.8,536.3 L906.1,567.8 L925.7,600.3 L943.7,633.6 L959.7,667.5 L973.7,701.6 L985.6,735.7 L995.3,769.6 L1002.6,802.9 L1007.6,835.5 L1010.2,866.9 L1010.3,897.1 L1008.1,925.6 L1003.4,952.4 L996.3,977.2 L987,999.8 L975.4,1020 L961.6,1037.7 L945.9,1052.7 L928.2,1064.8 L908.7,1074.1 L887.6,1080.4 L865.1,1083.7 L841.4,1083.9 L816.5,1081.1 L790.8,1075.2 L764.4,1066.4"/>
<path class="n" d="M434.1,461 L440.2,438.5 L448.4,418 L458.8,399.9 L471.1,384.1 L485.2,370.9 L501.2,360.3 L518.8,352.5 L537.9,347.4 L558.4,345.2 L580,345.9 L602.7,349.4 L626.2,355.7 L650.3,364.8 L674.9,376.5 L699.8,390.9 L724.7,407.8 L749.5,427 L773.9,448.4 L797.8,471.9 L821,497.2 L843.2,524.1 L864.4,552.4 L884.3,582 L902.8,612.5 L919.7,643.7 L934.9,675.4 L948.3,707.3 L959.8,739.1 L969.3,770.7 L976.6,801.7 L981.8,831.9 L984.8,861.1 L985.6,889 L984.2,915.4 L980.5,940.1 L974.7,962.9 L966.7,983.6 L956.6,1002 L944.5,1018.1 L930.6,1031.6 L914.8,1042.5 L897.4,1050.7 L878.5,1056.1 L858.2,1058.6 L836.7,1058.3 L814.1,1055.2 L790.7,1049.2 L766.6,1040.5"/>
<path class="K" d="M459.5,475.1 L464.2,454.8 L470.9,436.4 L479.5,420.1 L489.9,406.2 L502,394.5 L515.8,385.4 L531.1,378.7 L547.8,374.7 L565.8,373.3 L584.9,374.5 L605,378.3 L625.9,384.7 L647.5,393.6 L669.5,405 L691.8,418.8 L714.3,434.9 L736.7,453.1 L758.8,473.2 L780.6,495.2 L801.7,518.9 L822.1,544 L841.6,570.4 L860,597.8 L877.2,626.1 L893,655 L907.3,684.2 L920.1,713.6 L931.1,742.9 L940.3,771.9 L947.7,800.3 L953.1,827.9 L956.6,854.6 L958.1,880 L957.5,903.9 L955,926.3 L950.5,946.9 L944,965.5 L935.7,982 L925.5,996.3 L913.5,1008.2 L900,1017.6 L884.8,1024.6 L868.3,1028.9 L850.4,1030.7 L831.5,1029.8 L811.5,1026.3 L790.7,1020.2 L769.2,1011.6"/>
<path class="K" d="M764.4,1066.4 L769.2,1011.6"/>
<path class="k" d="M650,455 Q720,700 900,860"/>
<path class="n" d="M690,470 Q760,680 905,830"/>
<path class="k" d="M740,510 Q800,680 890,780"/>
<path class="K" d="M671.3,286 L677.1,270.1 L684,255.3 L691.9,241.5 L700.9,229 L710.8,217.7 L721.6,207.6 L733.3,198.8 L745.9,191.4 L759.2,185.3 L773.4,180.6 L788.2,177.2 L803.6,175.3 L819.7,174.8 L836.3,175.7 L853.3,178 L870.7,181.8 L888.5,186.9 L906.6,193.4 L924.8,201.2 L943.2,210.4 L961.7,220.8 L980.2,232.5 L998.6,245.4 L1016.8,259.4 L1034.9,274.5 L1052.7,290.7 L1070.1,307.9 L1087.2,326 L1103.8,344.9 L1119.8,364.7 L1135.3,385.1 L1150.2,406.2 L1164.3,427.9 L1177.7,450 L1190.3,472.5 L1202,495.3 L1212.9,518.4 L1222.8,541.6 L1231.8,564.8 L1239.8,588.1 L1246.7,611.2 L1252.6,634.1 L1257.4,656.7 L1261.1,679 L1263.7,700.8 L1265.2,722.1 L1265.5,742.7 L1264.8,762.7"/>
<path class="t" d="M689.8,297.8 L694.9,283 L701,269.3 L708,256.6 L716,245 L724.9,234.5 L734.7,225.3 L745.3,217.3 L756.7,210.5 L768.9,205.1 L781.8,200.9 L795.4,198 L809.5,196.5 L824.3,196.3 L839.5,197.5 L855.3,200 L871.4,203.8 L887.8,208.9 L904.5,215.3 L921.4,223 L938.5,231.9 L955.7,242 L972.9,253.2 L990,265.6 L1007.1,279.1 L1024,293.6 L1040.6,309.1 L1057,325.5 L1073,342.8 L1088.6,360.8 L1103.7,379.6 L1118.3,399.1 L1132.3,419.1 L1145.7,439.6 L1158.4,460.6 L1170.4,481.9 L1181.6,503.5 L1192,525.3 L1201.6,547.2 L1210.2,569.2 L1218,591.1 L1224.8,612.9 L1230.6,634.5 L1235.4,655.8 L1239.2,676.7 L1242,697.2 L1243.7,717.1 L1244.4,736.5 L1244.1,755.2"/>
<path class="k" d="M709.2,310.2 L713.5,296.6 L718.7,283.9 L724.8,272.3 L731.8,261.7 L739.7,252.2 L748.3,243.8 L757.8,236.6 L768,230.5 L779,225.7 L790.6,222.1 L802.9,219.8 L815.7,218.7 L829.1,218.8 L843,220.2 L857.3,222.9 L872,226.8 L887,231.9 L902.4,238.2 L917.9,245.7 L933.6,254.3 L949.4,264.1 L965.3,274.9 L981.1,286.8 L996.9,299.7 L1012.5,313.6 L1028,328.3 L1043.2,344 L1058.1,360.3 L1072.7,377.5 L1086.8,395.2 L1100.5,413.6 L1113.7,432.5 L1126.3,451.9 L1138.3,471.7 L1149.6,491.8 L1160.3,512.1 L1170.2,532.6 L1179.3,553.1 L1187.7,573.7 L1195.2,594.3 L1201.8,614.7 L1207.6,634.8 L1212.4,654.7 L1216.3,674.3 L1219.3,693.3 L1221.3,711.9 L1222.4,729.9 L1222.5,747.3"/>
<path class="K" d="M1264.8,762.7 L1222.5,747.3"/>
<path class="k" d="M1245,775 Q1200,900 1020,925"/>
<path class="X" d="M1195,770 Q1160,850 1030,862"/>
<path class="k" d="M1195,770 L1245,775"/>
</g>
<g transform="translate(1543.8,193.8) rotate(-115.4) scale(1.006)"><path class="t2" d="M-1,0 A3,7.5 0 1 0 5,0 A3,7.5 0 1 0 -1,0Z M2,-7.5 L16,-8 M2,7.5 L16,8 M16,-8 Q12.5,0 16,8 M16,-8 L30,-17.5 M16,8 L30,17.5 M30,-17.5 Q44,0 30,17.5 M30,-17.5 L133,-24 M30,17.5 L133,24 M133,-24.5 L145,-24.5 L145,24.5 L133,24.5Z M133,-16.3 L145,-16.3 M133,-8.2 L145,-8.2 M133,0 L145,0 M133,8.2 L145,8.2 M133,16.3 L145,16.3"/></g>
<text class="tb" x="1498.8" y="107">110</text>
<g transform="translate(663.8,761) rotate(94.8) scale(1.007)"><path class="t2" d="M-1,0 A3,7.5 0 1 0 5,0 A3,7.5 0 1 0 -1,0Z M2,-7.5 L16,-8 M2,7.5 L16,8 M16,-8 Q12.5,0 16,8 M16,-8 L30,-17.5 M16,8 L30,17.5 M30,-17.5 Q44,0 30,17.5 M30,-17.5 L133,-24 M30,17.5 L133,24 M133,-24.5 L145,-24.5 L145,24.5 L133,24.5Z M133,-16.3 L145,-16.3 M133,-8.2 L145,-8.2 M133,0 L145,0 M133,8.2 L145,8.2 M133,16.3 L145,16.3"/></g>
<text class="tb" x="653.8" y="875.5">110</text>
<g transform="translate(885,865) rotate(-65.1) scale(0.983)"><path class="t2" d="M-1,0 A3,7.5 0 1 0 5,0 A3,7.5 0 1 0 -1,0Z M2,-7.5 L16,-8 M2,7.5 L16,8 M16,-8 Q12.5,0 16,8 M16,-8 L30,-17.5 M16,8 L30,17.5 M30,-17.5 Q44,0 30,17.5 M30,-17.5 L133,-24 M30,17.5 L133,24 M133,-24.5 L145,-24.5 L145,24.5 L133,24.5Z M133,-16.3 L145,-16.3 M133,-8.2 L145,-8.2 M133,0 L145,0 M133,8.2 L145,8.2 M133,16.3 L145,16.3"/></g>
<text class="tb" x="918.8" y="802">110</text>
<g transform="translate(1185,920) rotate(109.8) scale(1.061)"><path class="t2" d="M-1,0 A3,7.5 0 1 0 5,0 A3,7.5 0 1 0 -1,0Z M2,-7.5 L16,-8 M2,7.5 L16,8 M16,-8 Q12.5,0 16,8 M16,-8 L30,-17.5 M16,8 L30,17.5 M30,-17.5 Q44,0 30,17.5 M30,-17.5 L133,-24 M30,17.5 L133,24 M133,-24.5 L145,-24.5 L145,24.5 L133,24.5Z M133,-16.3 L145,-16.3 M133,-8.2 L145,-8.2 M133,0 L145,0 M133,8.2 L145,8.2 M133,16.3 L145,16.3"/></g>
<text class="tb" x="1146" y="1027">110</text>
<g transform="translate(721,1241) rotate(32.5) scale(1.024)"><path class="t2" d="M-1,0 A3,7.5 0 1 0 5,0 A3,7.5 0 1 0 -1,0Z M2,-7.5 L16,-8 M2,7.5 L16,8 M16,-8 Q12.5,0 16,8 M16,-8 L30,-17.5 M16,8 L30,17.5 M30,-17.5 Q44,0 30,17.5 M30,-17.5 L133,-24 M30,17.5 L133,24 M133,-24.5 L145,-24.5 L145,24.5 L133,24.5Z M133,-16.3 L145,-16.3 M133,-8.2 L145,-8.2 M133,0 L145,0 M133,8.2 L145,8.2 M133,16.3 L145,16.3"/></g>
<text class="tb" x="801" y="1302">110</text>
<g transform="translate(412.5,1972.5) rotate(-35.4) scale(0.993)"><path class="t2" d="M-1,0 A3,7.5 0 1 0 5,0 A3,7.5 0 1 0 -1,0Z M2,-7.5 L16,-8 M2,7.5 L16,8 M16,-8 Q12.5,0 16,8 M16,-8 L30,-17.5 M16,8 L30,17.5 M30,-17.5 Q44,0 30,17.5 M30,-17.5 L133,-24 M30,17.5 L133,24 M133,-24.5 L145,-24.5 L145,24.5 L133,24.5Z M133,-16.3 L145,-16.3 M133,-8.2 L145,-8.2 M133,0 L145,0 M133,8.2 L145,8.2 M133,16.3 L145,16.3"/></g>
<text class="tb" x="477.5" y="1940.5">110</text>
<g transform="translate(765,2097.5) rotate(-48.6) scale(1.007)"><path class="t2" d="M-1,0 A3,7.5 0 1 0 5,0 A3,7.5 0 1 0 -1,0Z M2,-7.5 L16,-8 M2,7.5 L16,8 M16,-8 Q12.5,0 16,8 M16,-8 L30,-17.5 M16,8 L30,17.5 M30,-17.5 Q44,0 30,17.5 M30,-17.5 L133,-24 M30,17.5 L133,24 M133,-24.5 L145,-24.5 L145,24.5 L133,24.5Z M133,-16.3 L145,-16.3 M133,-8.2 L145,-8.2 M133,0 L145,0 M133,8.2 L145,8.2 M133,16.3 L145,16.3"/></g>
<text class="tb" x="818.8" y="2045.5">110</text>
<path class="n" d="M821.25,2372 H833.75 V2415 H821.25Z M821.25,2379.2 H833.75 M821.25,2386.4 H833.75 M821.25,2393.6 H833.75 M821.25,2400.8 H833.75 M821.25,2408.0 H833.75 M833.75,2373.5 L926.25,2376.25 L937.5,2385 L956,2385 M833.75,2413.5 L926.25,2411.25 L937.5,2401.5 L956,2401.5 M926.25,2376.25 Q912,2393.5 926.25,2411.25 M937.5,2385 Q932,2393 937.5,2401.5 M951,2393.2 A3,8.2 0 1 0 957,2393.2 A3,8.2 0 1 0 951,2393.2Z"/>
<text class="tb" x="867.5" y="2404.5">110</text>
<path class="n" d="M152.5,1025 L197.5,1075"/>
<path class="n" d="M1032.5,990 L995,1230"/>
<path class="n" d="M776.2,1137.5 L995,1230"/>
<path class="n" d="M484.5,1182 L485.8,1251.2"/>
<path class="n" d="M488.8,1242.5 L551.2,1233"/>
<path class="n" d="M767,890 L749,995"/>
<path class="n" d="M775,897.5 L828.8,937.5"/>
<path class="n" d="M1750.5,515 L1753.5,593.8"/>
<path class="n" d="M1672.5,553.8 L1673.5,622.5"/>
<path class="n" d="M1591.2,593.8 L1591.2,650"/>
<path class="n" d="M1416.2,928 L1476.2,928"/>
<path class="n" d="M1291.2,382 L1343.8,388.8"/>
<path class="n" d="M1420,1045 L1497.5,1056.2"/>
<path class="n" d="M1543,196 L1511.8,403.8"/>
<path class="n" d="M1544,196 L1579.2,361.2"/>
<path class="n" d="M1545,196 L1638,326.2"/>
<path class="n" d="M885,867.5 L843.8,952.5"/>
<path class="n" d="M1187.5,918.8 L1350,891.2"/>
<path class="n" d="M642.5,1190 L717.5,1240"/>
<path class="n" d="M408.8,1972.5 L333.8,2026"/>
<text class="lb" transform="translate(130,1012.5) scale(1.08,1)">1</text>
<text class="lb" transform="translate(110,596.5) scale(1.08,1)">2</text>
<text class="lb" transform="translate(108.8,2172.5) scale(1.08,1)">3</text>
<text class="lb" transform="translate(1006,1280.5) scale(1.08,1)">4</text>
<text class="lb" transform="translate(467.5,1286.5) scale(1.08,1)">5</text>
<text class="lb" transform="translate(762,874.5) scale(1.08,1)">6</text>
<text class="lb" transform="translate(1520,809.5) scale(1.08,1)">7</text>
<text class="lb" transform="translate(1758,638.5) scale(1.08,1)">8</text>
<text class="lb" transform="translate(1676.8,667.5) scale(1.08,1)">9</text>
<text class="lb" transform="translate(1595.5,692.5) scale(1.08,1)">10</text>
<text class="lb" transform="translate(1500,937.5) scale(1.08,1)">11</text>
<text class="lb" transform="translate(1251,390) scale(1.08,1)">12</text>
<text class="lb" transform="translate(1526,1067.5) scale(1.08,1)">12</text>
<text x="995" y="2409" font-size="29.5" textLength="601" lengthAdjust="spacingAndGlyphs">4-stroke Outboard Oil (92-828000A12)</text>
<text x="1771" y="2496" font-size="40" font-weight="bold" textLength="99" lengthAdjust="spacingAndGlyphs">30807</text>
</svg>
</body></html>
